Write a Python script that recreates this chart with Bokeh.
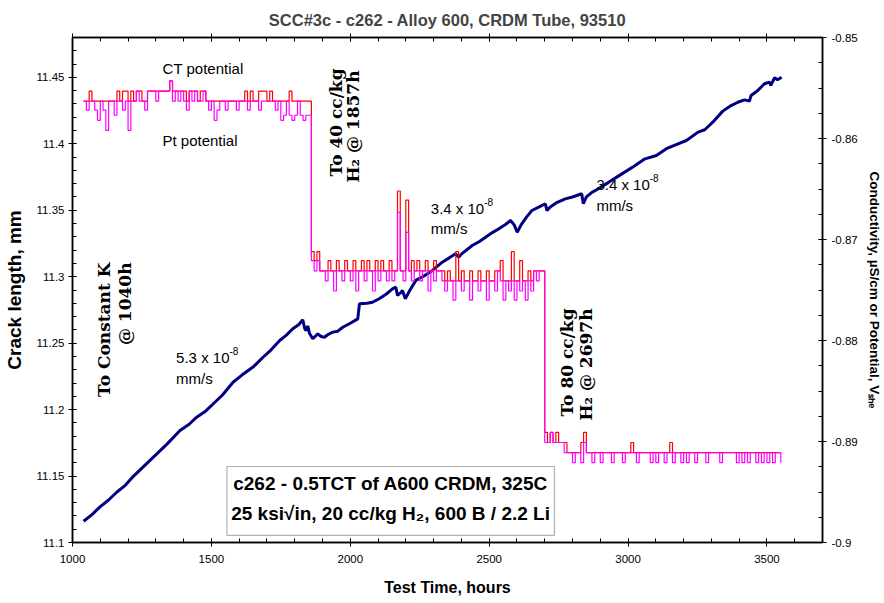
from math import pi
from bokeh.plotting import figure
from bokeh.models import (Range1d, LinearAxis, FixedTicker, NumeralTickFormatter,
                          Label, BoxAnnotation)
from bokeh.embed import file_html
from bokeh.resources import INLINE

# ---------------- data ----------------
crack_time_h = [1040, 1070, 1100, 1130, 1160, 1190, 1220, 1250, 1280, 1310, 1340, 1387,
                1420, 1447, 1480, 1507, 1540, 1578, 1610, 1650, 1686, 1715, 1746, 1770,
                1793, 1815, 1829, 1836, 1841, 1847, 1853, 1865, 1883, 1895, 1907, 1920,
                1937, 1955, 1973, 2000, 2027, 2033, 2060, 2080, 2104, 2130, 2152, 2164,
                2170, 2182, 2188, 2198, 2215, 2236, 2265, 2296, 2331, 2355, 2379, 2391,
                2400, 2439, 2465, 2487, 2510, 2535, 2560, 2577, 2590, 2601, 2615, 2635,
                2654, 2680, 2702, 2708, 2720, 2745, 2774, 2800, 2833, 2839, 2850, 2870,
                2893, 2930, 2975, 3020, 3061, 3102, 3138, 3180, 3210, 3252, 3276, 3305,
                3341, 3371, 3395, 3419, 3437, 3443, 3467, 3491, 3509, 3514, 3527, 3538,
                3553]
crack_length_mm = [11.116, 11.121, 11.127, 11.132, 11.138, 11.143, 11.150, 11.156, 11.162,
                   11.168, 11.174, 11.1843, 11.189, 11.1943, 11.199, 11.2044, 11.211,
                   11.2206, 11.226, 11.232, 11.2394, 11.245, 11.252, 11.256, 11.2608,
                   11.264, 11.2676, 11.261, 11.2595, 11.263, 11.2575, 11.2533, 11.2570,
                   11.2550, 11.2545, 11.2565, 11.2583, 11.259, 11.2620, 11.265, 11.2683,
                   11.2796, 11.2800, 11.2808, 11.2834, 11.2870, 11.2909, 11.2921, 11.2859,
                   11.2880, 11.2896, 11.2834, 11.2900, 11.2972, 11.3005, 11.3047, 11.3109,
                   11.314, 11.3172, 11.3147, 11.3170, 11.3235, 11.3265, 11.3297, 11.3330,
                   11.3361, 11.3395, 11.3423, 11.3390, 11.3335, 11.3390, 11.3450, 11.3498,
                   11.3525, 11.3549, 11.3498, 11.3525, 11.3560, 11.3586, 11.3600, 11.3624,
                   11.3549, 11.3600, 11.3635, 11.3662, 11.3710, 11.3770, 11.3830, 11.3887,
                   11.3912, 11.3963, 11.4000, 11.4025, 11.4088, 11.4106, 11.4163, 11.4246,
                   11.4288, 11.4313, 11.4331, 11.4321, 11.4364, 11.4401, 11.4452, 11.4464,
                   11.4439, 11.4497, 11.4482, 11.4501]

# potentials sampled every 10 h from 1040 h (mV vs SHE)
pot_start_h = 1040
pot_step_h = 10
ct_potential_mv = [
    # 1040-1850 h
    -856.3, -856.3, -855.3, -856.3, -856.3, -856.3, -856.3, -856.3, -856.3, -856.3,
    -856.3, -856.3, -855.3, -856.3, -855.3, -855.3, -856.3, -855.3, -856.3, -855.3,
    -855.3, -856.3, -856.3, -855.3, -855.3, -855.3, -855.3, -855.3, -855.3, -855.3,
    -855.3, -854.3, -855.3, -855.3, -855.3, -855.3, -855.3, -856.3, -855.3, -855.3,
    -855.3, -856.3, -855.3, -855.3, -856.3, -856.3, -856.3, -856.3, -856.3, -856.3,
    -856.3, -856.3, -856.3, -856.3, -856.3, -856.3, -856.3, -856.3, -855.3, -856.3,
    -855.3, -856.3, -856.3, -855.3, -855.3, -855.3, -856.3, -855.3, -856.3, -856.3,
    -856.3, -856.3, -856.3, -856.3, -855.3, -856.3, -856.3, -856.3, -856.3, -856.3,
    -856.3, -856.3,
    # 1860-2690 h
    -871.2, -872.1, -871.2, -873.1, -873.1, -873.1, -872.1, -873.1, -873.1, -872.1,
    -873.1, -873.1, -872.1, -873.1, -873.1, -872.1, -873.1, -873.1, -872.1, -873.1,
    -872.1, -873.1, -873.1, -872.1, -873.1, -872.1, -873.1, -873.1, -872.1, -873.1,
    -873.1, -865.2, -873.1, -873.1, -866.1, -873.1, -872.1, -873.1, -872.1, -873.1,
    -873.1, -872.1, -873.1, -873.1, -872.1, -873.1, -873.1, -873.1, -874.1, -873.1,
    -874.1, -874.1, -871.2, -874.1, -873.1, -874.1, -874.1, -873.1, -874.1, -874.1,
    -873.1, -874.1, -874.1, -873.1, -874.1, -874.1, -873.1, -873.1, -872.1, -874.1,
    -874.1, -874.1, -871.2, -874.1, -874.1, -872.1, -874.1, -874.1, -873.1, -874.1,
    -873.1, -873.1, -873.1, -873.1,
    # 2700-3550 h
    -889.1, -890.1, -889.1, -890.1, -889.1, -890.1, -890.1, -890.1, -891.1, -891.1,
    -891.1, -891.1, -891.1, -890.1, -889.1, -891.1, -891.1, -891.1, -891.1, -891.1,
    -891.1, -891.1, -891.1, -891.1, -891.1, -891.1, -891.1, -891.1, -891.1, -891.1,
    -891.1, -890.1, -891.1, -891.1, -891.1, -891.1, -891.1, -891.1, -891.1, -891.1,
    -891.1, -891.1, -891.1, -891.1, -891.1, -890.1, -891.1, -891.1, -891.1, -891.1,
    -891.1, -891.1, -891.1, -891.1, -891.1, -891.1, -891.1, -891.1, -891.1, -891.1,
    -891.1, -891.1, -891.1, -891.1, -891.1, -891.1, -891.1, -891.1, -891.1, -891.1,
    -891.1, -891.1, -891.1, -891.1, -891.1, -891.1, -891.1, -891.1, -891.1, -891.1,
    -891.1, -891.1, -891.1, -891.1, -891.1, -891.1,
]
pt_potential_mv = [
    # 1040-1850 h
    -856.3, -857.2, -856.3, -856.3, -857.2, -858.2, -856.3, -857.2, -859.2, -856.3,
    -856.3, -857.7, -856.3, -856.3, -857.2, -856.3, -859.2, -856.3, -856.3, -855.3,
    -856.3, -856.3, -857.2, -855.3, -855.3, -855.3, -856.3, -855.3, -855.3, -855.3,
    -855.3, -854.3, -856.3, -855.3, -856.3, -855.3, -856.3, -857.2, -855.3, -856.3,
    -855.3, -856.3, -856.3, -855.3, -856.3, -857.2, -856.3, -858.2, -857.2, -856.3,
    -856.3, -857.2, -856.3, -856.3, -856.3, -857.2, -856.3, -856.3, -856.3, -857.2,
    -856.3, -856.3, -856.3, -857.2, -856.3, -856.3, -856.3, -856.3, -856.3, -857.2,
    -856.3, -858.2, -857.7, -856.3, -857.7, -858.2, -857.7, -856.3, -857.7, -858.2,
    -857.7, -857.7,
    # 1860-2690 h
    -872.1, -873.1, -872.1, -873.1, -873.1, -874.1, -873.1, -873.1, -875.1, -873.1,
    -873.1, -874.1, -873.1, -873.1, -874.1, -873.1, -875.1, -873.1, -873.1, -874.1,
    -873.1, -873.1, -875.1, -873.1, -874.1, -873.1, -873.1, -874.1, -873.1, -874.1,
    -873.1, -867.3, -873.1, -874.1, -869.3, -873.1, -874.1, -873.1, -873.1, -874.1,
    -873.1, -873.1, -875.1, -873.1, -874.1, -873.1, -873.1, -874.1, -875.1, -874.1,
    -874.1, -876.0, -874.1, -874.1, -875.1, -874.1, -874.1, -876.0, -874.1, -874.1,
    -875.1, -874.1, -874.1, -876.0, -874.1, -874.1, -875.1, -873.1, -874.1, -876.0,
    -874.1, -875.1, -874.1, -876.0, -874.1, -875.1, -874.1, -876.0, -874.1, -875.1,
    -873.1, -874.1, -873.1, -873.1,
    # 2700-3550 h
    -890.1, -890.1, -889.1, -890.1, -890.1, -890.1, -890.1, -891.1, -891.1, -891.1,
    -892.1, -891.1, -891.1, -892.1, -890.1, -891.1, -891.1, -892.1, -891.1, -891.1,
    -892.1, -891.1, -891.1, -891.1, -892.1, -891.1, -891.1, -891.1, -892.1, -891.1,
    -891.1, -891.1, -891.1, -892.1, -891.1, -891.1, -891.1, -891.1, -892.1, -891.1,
    -892.1, -891.1, -891.1, -892.1, -891.1, -891.1, -892.1, -891.1, -891.1, -892.1,
    -891.1, -892.1, -891.1, -891.1, -892.1, -891.1, -891.1, -891.1, -892.1, -891.1,
    -891.1, -891.1, -891.1, -892.1, -891.1, -891.1, -891.1, -891.1, -891.1, -892.1,
    -891.1, -892.1, -891.1, -892.1, -891.1, -891.1, -892.1, -891.1, -892.1, -891.1,
    -892.1, -891.1, -892.1, -891.1, -891.1, -892.1,
]

x_major_ticks = [1000, 1500, 2000, 2500, 3000, 3500]
x_minor_ticks = list(range(1000, 3701, 100))
left_major_ticks = [11.1, 11.15, 11.2, 11.25, 11.3, 11.35, 11.4, 11.45]
left_minor_ticks = [round(11.1 + 0.01 * i, 2) for i in range(39)]
right_major_ticks = [-0.9, -0.89, -0.88, -0.87, -0.86, -0.85]
right_minor_ticks = [round(-0.9 + 0.0025 * i, 4) for i in range(21)]

pot_time_h = [pot_start_h + pot_step_h * i for i in range(len(pt_potential_mv))]
ct_v = [v / 1000.0 for v in ct_potential_mv]
pt_v = [v / 1000.0 for v in pt_potential_mv]

SANS = "Liberation Sans"
SERIF = "DejaVu Serif"

# ---------------- figure ----------------
p = figure(width=884, height=603, output_backend="svg", toolbar_location=None,
           x_range=Range1d(1000, 3700), y_range=Range1d(11.1, 11.48),
           min_border_left=72, min_border_right=59, min_border_top=37,
           min_border_bottom=61, background_fill_color="white",
           border_fill_color="white")
p.extra_y_ranges = {"pot": Range1d(-0.9, -0.85)}
p.grid.visible = False
p.outline_line_color = "black"
p.outline_line_width = 1.5

p.title.text = "SCC#3c - c262 - Alloy 600, CRDM Tube, 93510"
p.title.align = "center"
p.title.text_font = SANS
p.title.text_font_size = "16.5px"
p.title.text_font_style = "bold"
p.title.standoff = 10


def style_axis(ax, major, minor, label_size="11.5px"):
    ax.ticker = FixedTicker(ticks=major, minor_ticks=minor)
    ax.formatter = NumeralTickFormatter(format="0.[00]")
    ax.axis_line_width = 1.5
    ax.axis_line_color = "black"
    ax.major_tick_in = 4
    ax.major_tick_out = 4
    ax.minor_tick_in = 4
    ax.minor_tick_out = 0
    ax.major_tick_line_color = "black"
    ax.minor_tick_line_color = "black"
    ax.major_label_text_font = SANS
    ax.major_label_text_font_size = label_size
    ax.major_label_text_color = "black"
    ax.axis_label_text_font = SANS
    ax.axis_label_text_font_style = "bold"
    ax.axis_label_text_color = "black"


xb = p.xaxis[0]
style_axis(xb, x_major_ticks, x_minor_ticks)
xb.axis_label = "Test Time, hours"
xb.axis_label_text_font_size = "16px"
xb.major_label_standoff = 8
xb.axis_label_standoff = 13

yl = p.yaxis[0]
style_axis(yl, left_major_ticks, left_minor_ticks)
yl.axis_label = "Crack length, mm"
yl.axis_label_text_font_size = "19px"
yl.major_label_standoff = 4
yl.axis_label_standoff = 9

yr = LinearAxis(y_range_name="pot")
style_axis(yr, right_major_ticks, right_minor_ticks)
yr.axis_label = "Conductivity, µS/cm or Potential, Vₛₕₑ"
yr.axis_label_text_font_size = "13.5px"
yr.major_label_standoff = 5
yr.axis_label_standoff = 6
p.add_layout(yr, "right")

xt = LinearAxis()
style_axis(xt, x_major_ticks, x_minor_ticks, label_size="1px")
xt.major_label_overrides = {t: "" for t in x_major_ticks}
xt.major_label_standoff = 0
p.add_layout(xt, "above")

# ---------------- series ----------------
p.line(crack_time_h, crack_length_mm, line_color="#000080", line_width=3)
p.step(pot_time_h, ct_v, mode="after", y_range_name="pot",
       line_color="#ff0000", line_width=1.2)
p.step(pot_time_h, pt_v, mode="after", y_range_name="pot",
       line_color="#ff00ff", line_width=1.2)

# ---------------- annotations ----------------
def lab(x, y, text, size="15px", font=SANS, style="normal", align="left",
        baseline="alphabetic", angle=0.0):
    p.add_layout(Label(x=x, y=y, text=text, text_font=font, text_font_size=size,
                       text_font_style=style, text_align=align,
                       text_baseline=baseline, angle=angle, text_color="black"))

lab(1470, 11.4567, "CT potential", align="center", baseline="middle")
lab(1459, 11.4025, "Pt potential", align="center", baseline="middle")

lab(1373, 11.2392, "5.3 x 10")
lab(1565, 11.2440, "-8", size="10px")
lab(1373, 11.2234, "mm/s")

lab(2290, 11.3513, "3.4 x 10")
lab(2482, 11.3561, "-8", size="10px")
lab(2290, 11.3363, "mm/s")

lab(2886, 11.3694, "3.4 x 10")
lab(3078, 11.3742, "-8", size="10px")
lab(2886, 11.3536, "mm/s")

# rotated event notes
for (x, y, t) in [(1113, 11.3107, "To Constant K"), (1190, 11.3107, "@ 1040h"),
                  (1948, 11.4567, "To 40 cc/kg"), (2011, 11.4552, "H₂ @ 1857h"),
                  (2780, 11.2761, "To 80 cc/kg"), (2848, 11.2761, "H₂ @ 2697h")]:
    lab(x, y, t, size="17px", font=SERIF, style="bold", align="right",
        baseline="middle", angle=pi / 2)

# info box
p.add_layout(BoxAnnotation(left=1556, right=2735, bottom=11.1053, top=11.1572,
                           fill_color="white", fill_alpha=1.0,
                           line_color="black", line_width=1.2))
lab(2145, 11.1444, "c262 - 0.5TCT of A600 CRDM, 325C", size="19px",
    style="bold", align="center", baseline="middle")
lab(2145, 11.1218, "25 ksi√in, 20 cc/kg H₂, 600 B / 2.2 Li", size="19px",
    style="bold", align="center", baseline="middle")

open("out.html", "w").write(file_html(p, INLINE))
